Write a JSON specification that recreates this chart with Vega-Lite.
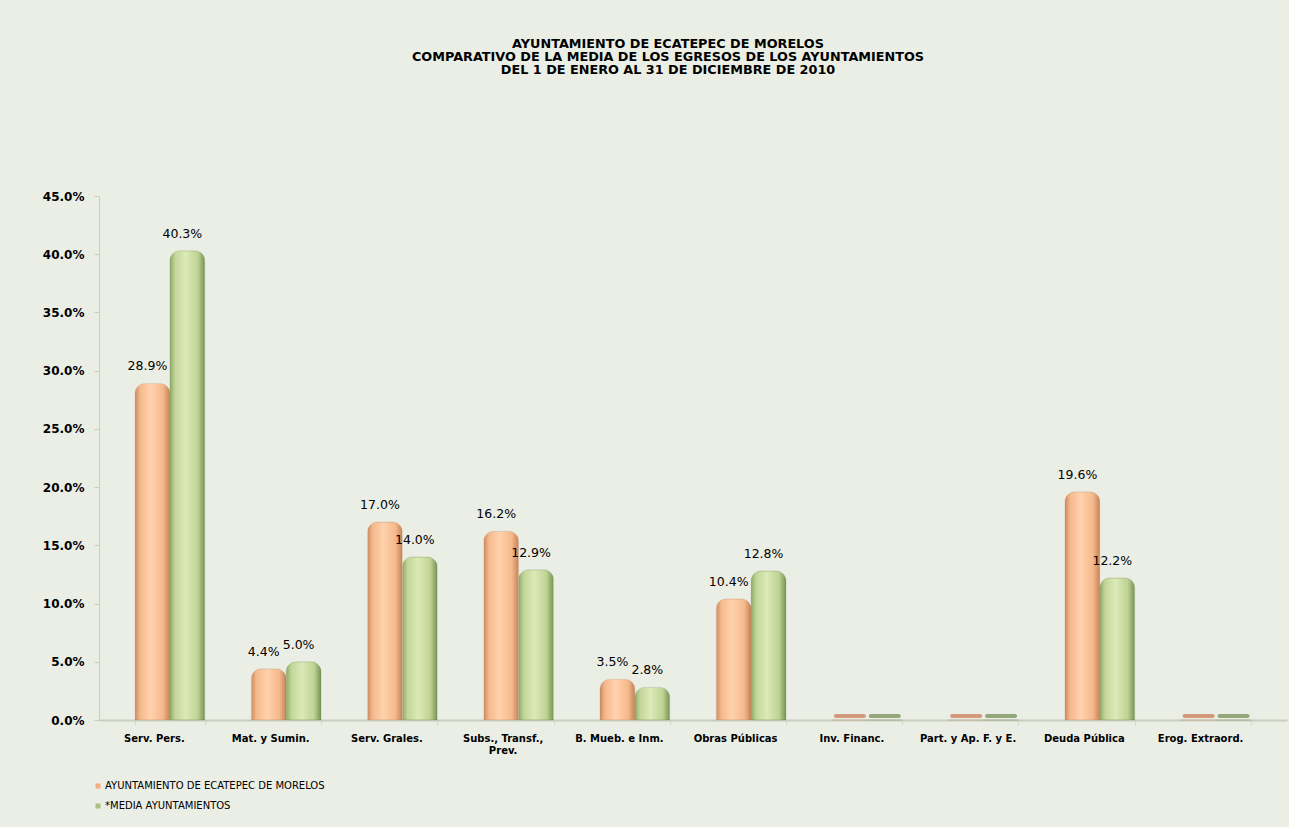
{
  "$schema": "https://vega.github.io/schema/vega-lite/v6.json",
  "background": "#ebeee5",
  "padding": {"left": 42, "top": 38, "right": 4, "bottom": 17},
  "width": 1188,
  "height": 524,
  "title": {
    "text": ["AYUNTAMIENTO DE ECATEPEC DE MORELOS", "COMPARATIVO DE LA MEDIA DE LOS EGRESOS DE LOS AYUNTAMIENTOS", "DEL 1 DE ENERO AL 31 DE DICIEMBRE DE 2010"],
    "font": "DejaVu Sans",
    "fontSize": 12.8,
    "fontWeight": "bold",
    "color": "#000000",
    "lineHeight": 13,
    "anchor": "middle",
    "dx": -25,
    "offset": 113
  },
  "data": {
    "values": [
      {"categoria": "Serv. Pers.", "serie": "AYUNTAMIENTO DE ECATEPEC DE MORELOS", "valor": 0.289},
      {"categoria": "Serv. Pers.", "serie": "*MEDIA AYUNTAMIENTOS", "valor": 0.403},
      {"categoria": "Mat. y Sumin.", "serie": "AYUNTAMIENTO DE ECATEPEC DE MORELOS", "valor": 0.044},
      {"categoria": "Mat. y Sumin.", "serie": "*MEDIA AYUNTAMIENTOS", "valor": 0.050},
      {"categoria": "Serv. Grales.", "serie": "AYUNTAMIENTO DE ECATEPEC DE MORELOS", "valor": 0.170},
      {"categoria": "Serv. Grales.", "serie": "*MEDIA AYUNTAMIENTOS", "valor": 0.140},
      {"categoria": "Subs., Transf., Prev.", "serie": "AYUNTAMIENTO DE ECATEPEC DE MORELOS", "valor": 0.162},
      {"categoria": "Subs., Transf., Prev.", "serie": "*MEDIA AYUNTAMIENTOS", "valor": 0.129},
      {"categoria": "B. Mueb. e Inm.", "serie": "AYUNTAMIENTO DE ECATEPEC DE MORELOS", "valor": 0.035},
      {"categoria": "B. Mueb. e Inm.", "serie": "*MEDIA AYUNTAMIENTOS", "valor": 0.028},
      {"categoria": "Obras Públicas", "serie": "AYUNTAMIENTO DE ECATEPEC DE MORELOS", "valor": 0.104},
      {"categoria": "Obras Públicas", "serie": "*MEDIA AYUNTAMIENTOS", "valor": 0.128},
      {"categoria": "Inv. Financ.", "serie": "AYUNTAMIENTO DE ECATEPEC DE MORELOS", "valor": 0},
      {"categoria": "Inv. Financ.", "serie": "*MEDIA AYUNTAMIENTOS", "valor": 0},
      {"categoria": "Part. y Ap. F. y E.", "serie": "AYUNTAMIENTO DE ECATEPEC DE MORELOS", "valor": 0},
      {"categoria": "Part. y Ap. F. y E.", "serie": "*MEDIA AYUNTAMIENTOS", "valor": 0},
      {"categoria": "Deuda Pública", "serie": "AYUNTAMIENTO DE ECATEPEC DE MORELOS", "valor": 0.196},
      {"categoria": "Deuda Pública", "serie": "*MEDIA AYUNTAMIENTOS", "valor": 0.122},
      {"categoria": "Erog. Extraord.", "serie": "AYUNTAMIENTO DE ECATEPEC DE MORELOS", "valor": 0},
      {"categoria": "Erog. Extraord.", "serie": "*MEDIA AYUNTAMIENTOS", "valor": 0}
    ]
  },
  "encoding": {
    "x": {
      "field": "categoria",
      "type": "nominal",
      "sort": null,
      "scale": {"paddingInner": 0.4, "paddingOuter": 0.31},
      "axis": {
        "title": null,
        "labelAngle": 0,
        "labelFont": "DejaVu Sans",
        "labelFontSize": 10,
        "labelFontWeight": "bold",
        "labelColor": "#000000",
        "labelOffset": -16,
        "labelPadding": 8,
        "labelLineHeight": 12,
        "labelExpr": "datum.value == 'Subs., Transf., Prev.' ? ['Subs., Transf.,', 'Prev.'] : datum.label",
        "domainColor": "#c9cebf",
        "domainWidth": 2,
        "tickColor": "#d5d9cc",
        "tickSize": 5,
        "tickBand": "extent"
      }
    },
    "xOffset": {"field": "serie", "type": "nominal", "sort": ["AYUNTAMIENTO DE ECATEPEC DE MORELOS", "*MEDIA AYUNTAMIENTOS"], "scale": {"domain": ["AYUNTAMIENTO DE ECATEPEC DE MORELOS", "*MEDIA AYUNTAMIENTOS"], "paddingInner": 0, "paddingOuter": 0}},
    "y": {
      "field": "valor",
      "type": "quantitative",
      "scale": {"domain": [0, 0.45], "nice": false},
      "axis": {
        "title": null,
        "format": ".1%",
        "values": [0, 0.05, 0.1, 0.15, 0.2, 0.25, 0.3, 0.35, 0.4, 0.45],
        "grid": false,
        "labelFont": "DejaVu Sans",
        "labelFontSize": 12,
        "labelFontWeight": "bold",
        "labelColor": "#000000",
        "labelPadding": 10,
        "domainColor": "#c9cebf",
        "tickColor": "#c9cebf",
        "tickSize": 5
      }
    }
  },
  "layer": [
    {
      "transform": [{"filter": "datum.serie == 'AYUNTAMIENTO DE ECATEPEC DE MORELOS'"}],
      "mark": {"type": "bar", "cornerRadiusTopLeft": 10, "cornerRadiusTopRight": 10, "stroke": "#b9876a", "strokeOpacity": 0.4, "strokeWidth": 0.6,
        "color": {"gradient": "linear", "x1": 0, "y1": 0, "x2": 1, "y2": 0, "stops": [
          {"offset": 0, "color": "#d08a5e"},
          {"offset": 0.15, "color": "#f5b98e"},
          {"offset": 0.45, "color": "#ffd2ad"},
          {"offset": 0.8, "color": "#f6b98c"},
          {"offset": 1, "color": "#c58356"}
        ]}
      }
    },
    {
      "transform": [{"filter": "datum.serie == '*MEDIA AYUNTAMIENTOS'"}],
      "mark": {"type": "bar", "cornerRadiusTopLeft": 10, "cornerRadiusTopRight": 10, "stroke": "#6f8a50", "strokeOpacity": 0.4, "strokeWidth": 0.6,
        "color": {"gradient": "linear", "x1": 0, "y1": 0, "x2": 1, "y2": 0, "stops": [
          {"offset": 0, "color": "#8fa968"},
          {"offset": 0.15, "color": "#c2d699"},
          {"offset": 0.45, "color": "#dceab7"},
          {"offset": 0.8, "color": "#bfd393"},
          {"offset": 1, "color": "#779254"}
        ]}
      }
    },
    {
      "transform": [{"filter": "datum.valor == 0 && datum.serie == 'AYUNTAMIENTO DE ECATEPEC DE MORELOS'"}],
      "mark": {"type": "tick", "orient": "horizontal", "thickness": 4, "size": 32, "color": "#d3997a", "opacity": 1, "cornerRadius": 2, "yOffset": -4}
    },
    {
      "transform": [{"filter": "datum.valor == 0 && datum.serie == '*MEDIA AYUNTAMIENTOS'"}],
      "mark": {"type": "tick", "orient": "horizontal", "thickness": 4, "size": 32, "color": "#93a77a", "opacity": 1, "cornerRadius": 2, "yOffset": -4}
    },
    {
      "mark": {"type": "square", "opacity": 0},
      "encoding": {
        "color": {
          "field": "serie",
          "type": "nominal",
          "sort": ["AYUNTAMIENTO DE ECATEPEC DE MORELOS", "*MEDIA AYUNTAMIENTOS"],
          "scale": {
            "domain": ["AYUNTAMIENTO DE ECATEPEC DE MORELOS", "*MEDIA AYUNTAMIENTOS"],
            "range": ["#f2ae80", "#a9c27f"]
          },
          "legend": {
            "title": null,
            "orient": "none",
            "legendX": -6,
            "legendY": 585,
            "direction": "vertical",
            "symbolType": "square",
            "symbolSize": 25,
            "symbolStrokeWidth": 0,
            "symbolOpacity": 1,
            "labelFont": "DejaVu Sans",
            "labelFontSize": 10,
            "labelColor": "#000000",
            "labelOffset": 2,
            "labelLimit": 0,
            "rowPadding": 10
          }
        }
      }
    },
    {
      "transform": [{"filter": "datum.valor > 0"}],
      "mark": {"type": "text", "baseline": "bottom", "dy": -10, "dx": -5, "font": "DejaVu Sans", "fontSize": 12.5, "color": "#000000"},
      "encoding": {
        "text": {"field": "valor", "type": "quantitative", "format": ".1%"}
      }
    }
  ],
  "config": {
    "view": {"stroke": null}
  }
}
